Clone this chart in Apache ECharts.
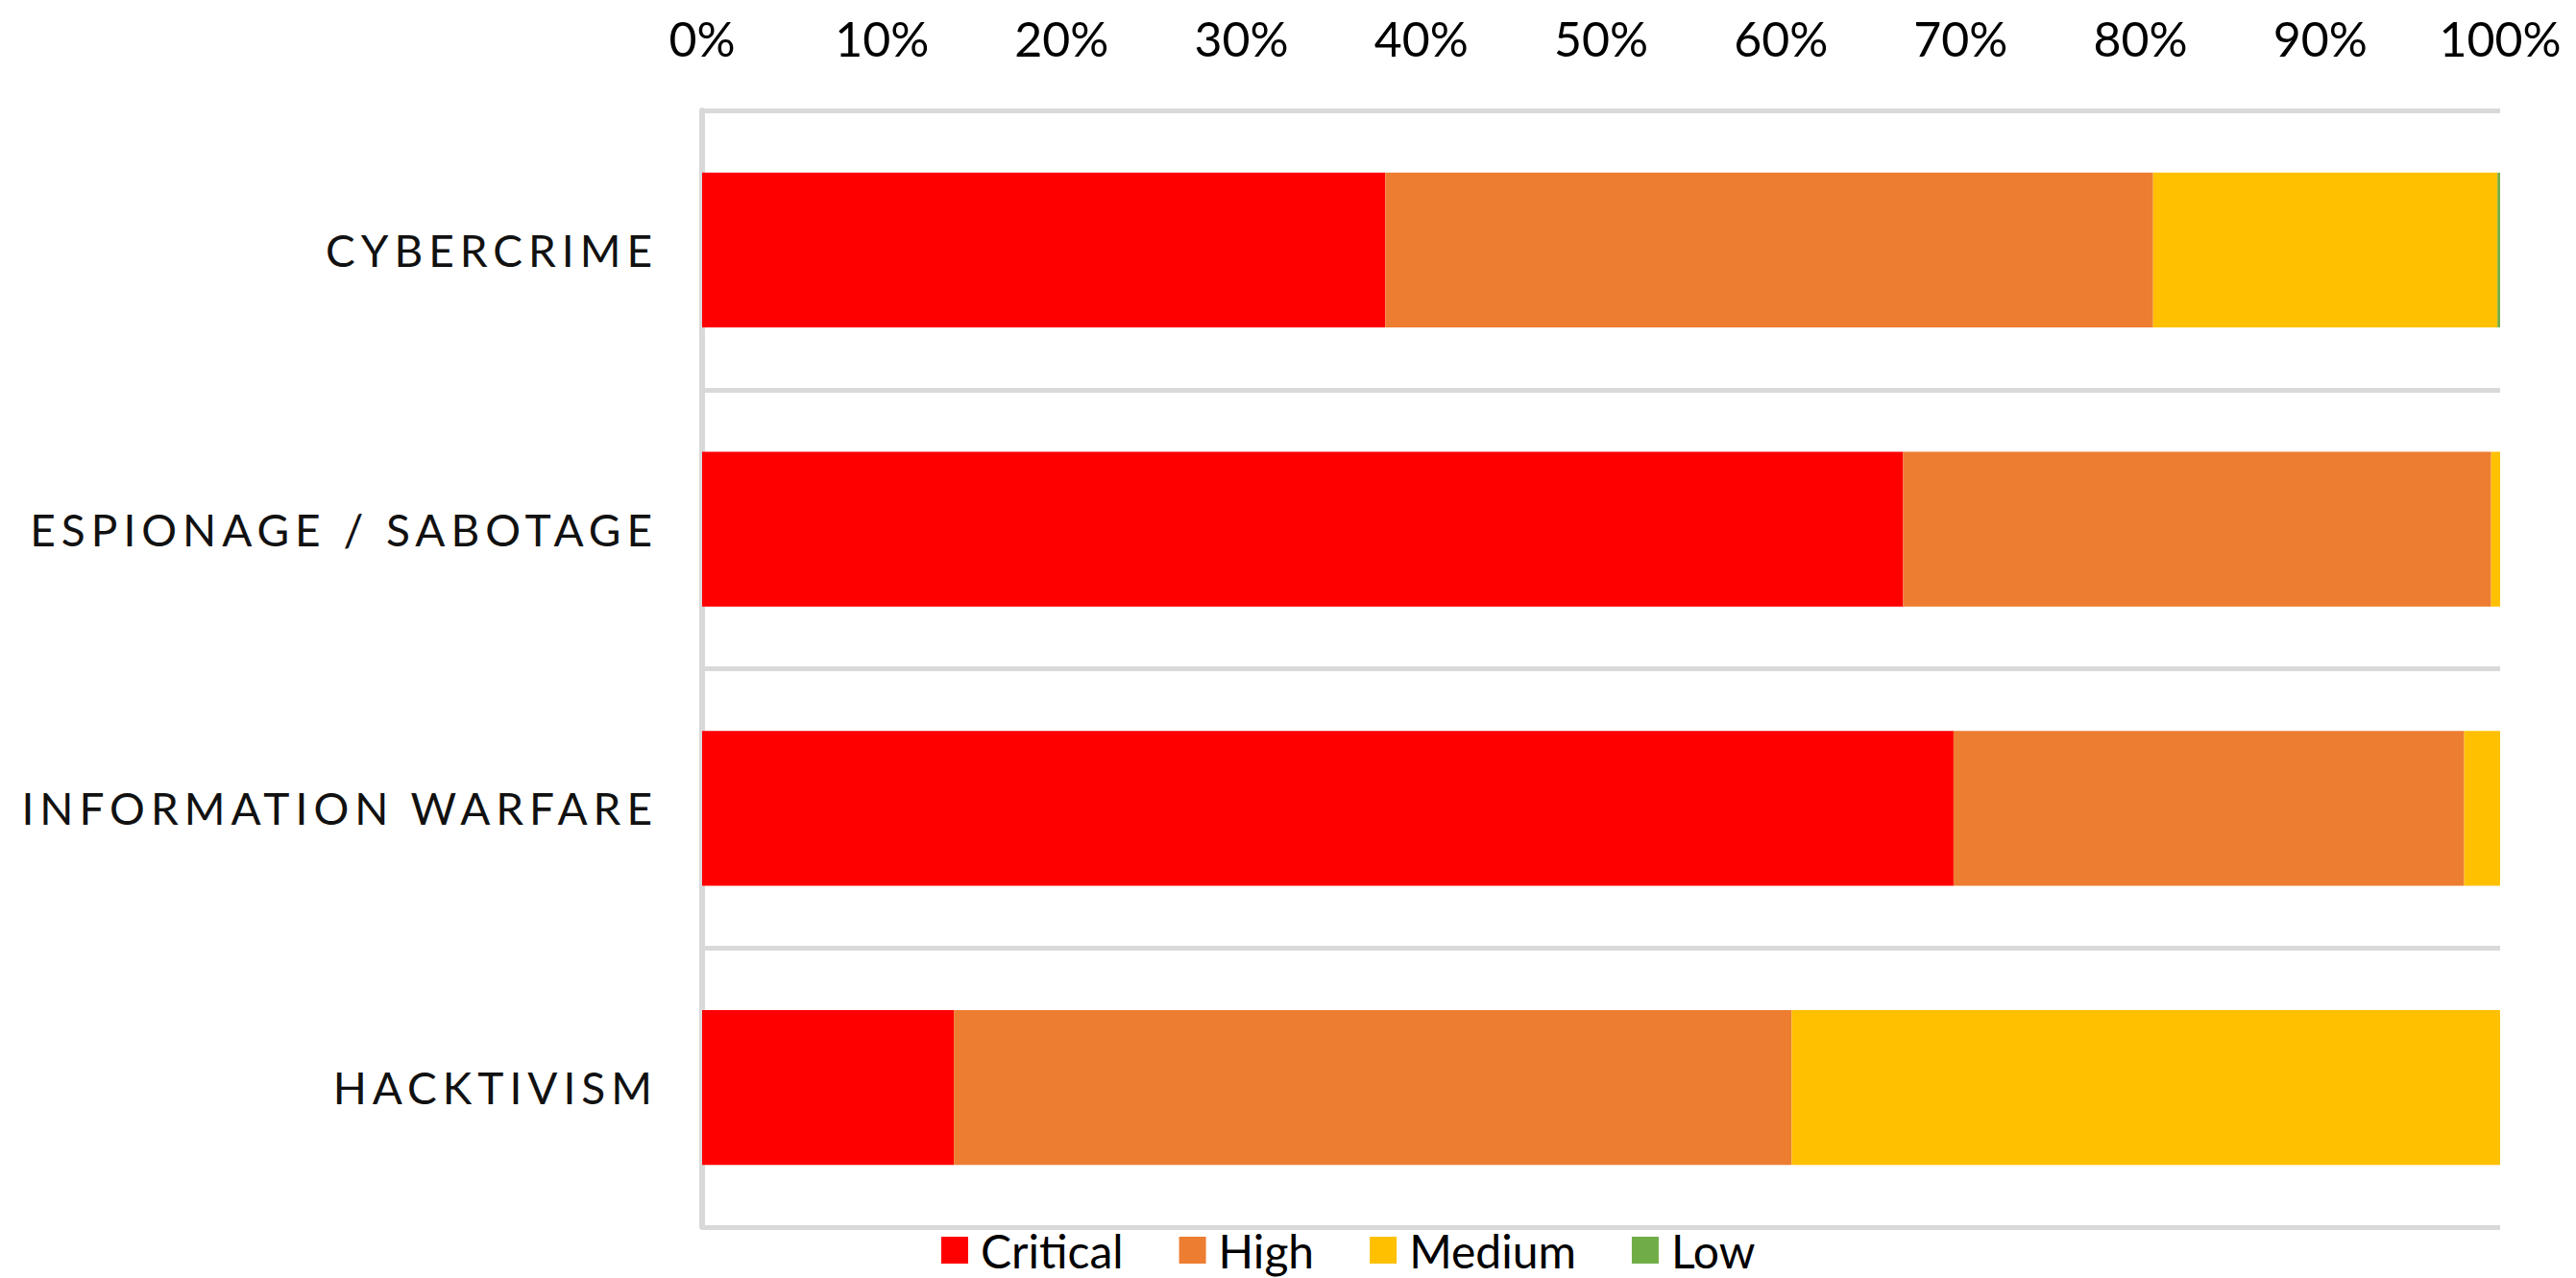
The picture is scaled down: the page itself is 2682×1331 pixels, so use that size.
<!DOCTYPE html>
<html lang="en" style="height: 100%">
<head>
  <meta charset="utf-8">
  <style>
    /* spaced-out category names, like the original */
    #container svg text[text-anchor="end"] { letter-spacing: 6px; }
  </style>
</head>
<body style="height: 100%; margin: 0; background: #fff">
  <div id="container" style="height: 100%"></div>

  <script type="text/javascript" src="https://fastly.jsdelivr.net/npm/echarts@6/dist/echarts.min.js"></script>

  <script type="text/javascript">
    var dom = document.getElementById('container');
    var myChart = echarts.init(dom, null, {
      renderer: 'svg'
    });
    var option;

    const categories = ['CYBERCRIME', 'ESPIONAGE / SABOTAGE', 'INFORMATION WARFARE', 'HACKTIVISM'];
    const critical = [38.0, 66.8, 69.6, 14.0];
    const high = [42.7, 32.7, 28.4, 46.6];
    const medium = [19.15, 0.5, 2.0, 39.4];
    const low = [0.15, 0, 0, 0];
    const tickValues = [0, 10, 20, 30, 40, 50, 60, 70, 80, 90, 100];

    const font = 'Lato, "Open Sans", sans-serif';
    const gridColor = '#d9d9d9';

    function barSeries(name, data, color) {
      return {
        name: name,
        type: 'bar',
        stack: 'total',
        barCategoryGap: '44.6%',
        data: data,
        itemStyle: { color: color },
        emphasis: { disabled: true }
      };
    }

    option = {
      animation: false,
      backgroundColor: '#fff',
      grid: {
        left: 731,
        right: 79,
        top: 115,
        bottom: 53,
        containLabel: false
      },
      legend: {
        left: 980,
        top: 1277,
        padding: 0,
        itemWidth: 28,
        itemHeight: 28,
        itemGap: 58,
        icon: 'rect',
        textStyle: {
          fontFamily: font,
          fontSize: 48,
          lineHeight: 50,
          color: '#000',
          padding: [0, 0, 0, 8]
        },
        data: ['Critical', 'High', 'Medium', 'Low']
      },
      xAxis: {
        type: 'value',
        position: 'top',
        min: tickValues[0],
        max: tickValues[tickValues.length - 1],
        interval: 10,
        axisLine: { show: false },
        axisTick: { show: false },
        splitLine: { show: false },
        axisLabel: {
          margin: 50,
          fontFamily: font,
          fontSize: 50,
          color: '#000',
          formatter: '{value}%'
        }
      },
      yAxis: {
        type: 'category',
        inverse: true,
        data: categories,
        axisLine: { show: true, lineStyle: { color: gridColor, width: 6 } },
        axisTick: { show: false },
        splitLine: { show: true, lineStyle: { color: gridColor, width: 5 } },
        axisLabel: {
          margin: 46,
          fontFamily: font,
          fontSize: 46,
          color: '#111'
        }
      },
      series: [
        barSeries('Critical', critical, '#ff0000'),
        barSeries('High', high, '#ed7d31'),
        barSeries('Medium', medium, '#ffc000'),
        barSeries('Low', low, '#70ad47')
      ]
    };

    if (option && typeof option === 'object') {
      myChart.setOption(option);
    }

    window.addEventListener('resize', myChart.resize);
  </script>
</body>
</html>
